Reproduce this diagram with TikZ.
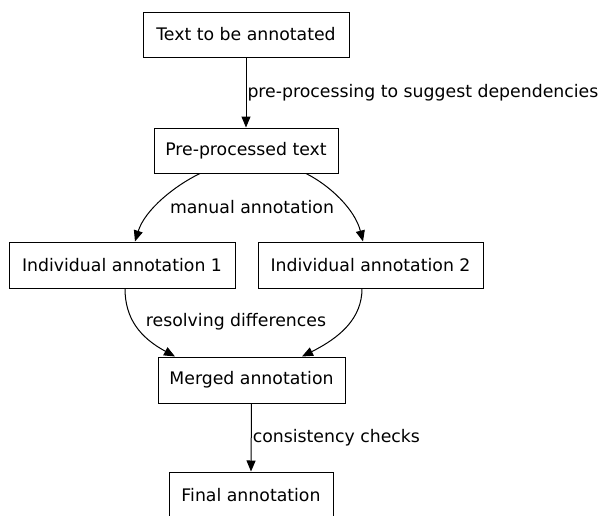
\documentclass[tikz,border=0pt]{standalone}
\usepackage{fontspec}
\setmainfont{DejaVu Sans}
\usetikzlibrary{arrows.meta,calc}
\begin{document}
\begin{tikzpicture}[x=1pt,y=-1pt,
  box/.style={draw,line width=1pt,inner sep=0pt,minimum height=45pt,font=\fontsize{17.3}{20}\selectfont},
  lbl/.style={inner sep=0pt,font=\fontsize{17.3}{20}\selectfont},
  conn/.style={line width=1pt,-{Triangle[length=11pt,width=9pt]}}]
\useasboundingbox (0,0) rectangle (600,515);
\node[box,minimum width=206pt] (txt) at (246,34.5) {Text to be annotated};
\node[box,minimum width=184pt] (pre) at (246,150.5) {Pre-processed text};
\node[box,minimum width=226pt,minimum height=46pt] (ind1) at (122,265) {Individual annotation 1};
\node[box,minimum width=225pt,minimum height=46pt] (ind2) at (370.5,265) {Individual annotation 2};
\node[box,minimum width=187pt,minimum height=46pt] (mrg) at (251.5,380) {Merged annotation};
\node[box,minimum width=164pt,minimum height=46pt] (fin) at (251,495) {Final annotation};
\draw[conn] (txt.south) -- (pre.north)
  node[midway,lbl,anchor=west,xshift=1pt] (l1) {pre-processing to suggest dependencies};
\draw[conn] ($(pre.south)+(-46,0)$) .. controls ($(pre.south)+(-71,12)$) and ($(ind1.north)+(23,-32)$) .. ($(ind1.north)+(13,0)$);
\draw[conn] ($(pre.south)+(60,0)$) .. controls ($(pre.south)+(84,12)$) and ($(ind2.north)+(-15.5,-32)$) .. ($(ind2.north)+(-7.5,0)$);
\node[lbl] (l2) at (252,207) {manual annotation};
\draw[conn] ($(ind1.south)+(3,0)$) .. controls ($(ind1.south)+(3,30)$) and ($(mrg.north)+(-111.5,-19)$) .. ($(mrg.north)+(-76.5,0)$);
\draw[conn] ($(ind2.south)+(-8.5,0)$) .. controls ($(ind2.south)+(-8.5,30)$) and ($(mrg.north)+(88.5,-19)$) .. ($(mrg.north)+(50.5,0)$);
\node[lbl] (l3) at (236,322) {resolving differences};
\draw[conn] (mrg.south) -- (fin.north)
  node[midway,lbl,anchor=west,xshift=1pt] (l4) {consistency checks};
\end{tikzpicture}
\end{document}
